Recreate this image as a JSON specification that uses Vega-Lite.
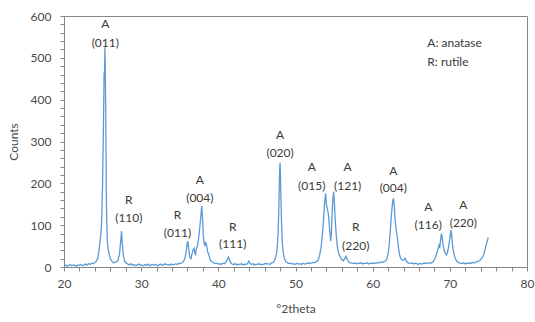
{
  "$schema": "https://vega.github.io/schema/vega-lite/v6.json",
  "width": 463,
  "height": 251,
  "autosize": {"type": "none"},
  "padding": {"left": 64, "top": 16, "right": 8, "bottom": 55},
  "background": "white",
  "config": {
    "view": {"stroke": "#868686", "strokeWidth": 1},
    "font": "Lato",
    "axis": {
      "domainColor": "#868686",
      "tickColor": "#868686",
      "tickSize": 4,
      "grid": false,
      "labelFont": "Lato",
      "labelFontSize": 12,
      "labelColor": "#4a4a4a",
      "titleFont": "Lato",
      "titleFontSize": 12,
      "titleFontWeight": "normal",
      "titleColor": "#4a4a4a"
    }
  },
  "datasets": {
    "xrd": [
      {"theta":20.0,"counts":3},{"theta":20.2,"counts":5},{"theta":20.4,"counts":2},{"theta":20.6,"counts":4},{"theta":20.8,"counts":6},
      {"theta":21.0,"counts":3},{"theta":21.2,"counts":5},{"theta":21.4,"counts":4},{"theta":21.6,"counts":2},{"theta":21.8,"counts":5},
      {"theta":22.0,"counts":4},{"theta":22.2,"counts":6},{"theta":22.4,"counts":3},{"theta":22.6,"counts":5},{"theta":22.8,"counts":7},
      {"theta":23.0,"counts":5},{"theta":23.2,"counts":8},{"theta":23.4,"counts":6},{"theta":23.6,"counts":9},{"theta":23.8,"counts":8},
      {"theta":24.0,"counts":11},{"theta":24.2,"counts":14},{"theta":24.4,"counts":22},{"theta":24.5,"counts":35},{"theta":24.6,"counts":50},
      {"theta":24.7,"counts":65},{"theta":24.8,"counts":85},{"theta":24.9,"counts":120},{"theta":25.0,"counts":200},{"theta":25.1,"counts":320},
      {"theta":25.2,"counts":465},{"theta":25.25,"counts":462},{"theta":25.3,"counts":525},{"theta":25.35,"counts":470},{"theta":25.4,"counts":380},
      {"theta":25.5,"counts":150},{"theta":25.6,"counts":68},{"theta":25.7,"counts":45},{"theta":25.8,"counts":35},{"theta":25.9,"counts":27},
      {"theta":26.0,"counts":20},{"theta":26.2,"counts":14},{"theta":26.4,"counts":10},{"theta":26.6,"counts":11},{"theta":26.8,"counts":12},
      {"theta":27.0,"counts":16},{"theta":27.2,"counts":32},
      {"theta":27.35,"counts":62},{"theta":27.45,"counts":86},{"theta":27.55,"counts":58},{"theta":27.7,"counts":26},{"theta":27.9,"counts":13},
      {"theta":28.1,"counts":9},{"theta":28.3,"counts":7},{"theta":28.5,"counts":5},{"theta":28.7,"counts":8},{"theta":28.9,"counts":4},
      {"theta":29.1,"counts":6},{"theta":29.3,"counts":3},{"theta":29.5,"counts":5},{"theta":29.7,"counts":7},{"theta":29.9,"counts":4},
      {"theta":30.1,"counts":5},{"theta":30.3,"counts":3},{"theta":30.5,"counts":6},{"theta":30.7,"counts":4},{"theta":30.9,"counts":7},
      {"theta":31.1,"counts":3},{"theta":31.3,"counts":5},{"theta":31.5,"counts":6},{"theta":31.7,"counts":4},{"theta":31.9,"counts":6},
      {"theta":32.1,"counts":3},{"theta":32.3,"counts":5},{"theta":32.5,"counts":7},{"theta":32.7,"counts":4},{"theta":32.9,"counts":5},
      {"theta":33.1,"counts":8},{"theta":33.3,"counts":5},{"theta":33.5,"counts":6},{"theta":33.7,"counts":4},{"theta":33.9,"counts":7},
      {"theta":34.1,"counts":5},{"theta":34.3,"counts":6},{"theta":34.5,"counts":8},{"theta":34.7,"counts":6},{"theta":34.9,"counts":9},
      {"theta":35.1,"counts":8},{"theta":35.3,"counts":11},{"theta":35.5,"counts":14},{"theta":35.7,"counts":22},{"theta":35.85,"counts":40},
      {"theta":35.95,"counts":55},{"theta":36.05,"counts":62},{"theta":36.15,"counts":45},{"theta":36.3,"counts":24},{"theta":36.45,"counts":20},
      {"theta":36.6,"counts":32},{"theta":36.75,"counts":42},{"theta":36.85,"counts":45},{"theta":36.95,"counts":33},{"theta":37.05,"counts":30},
      {"theta":37.15,"counts":44},{"theta":37.3,"counts":50},{"theta":37.45,"counts":70},{"theta":37.6,"counts":95},{"theta":37.75,"counts":125},
      {"theta":37.85,"counts":146},{"theta":37.95,"counts":120},{"theta":38.05,"counts":75},{"theta":38.15,"counts":58},{"theta":38.25,"counts":50},
      {"theta":38.35,"counts":58},{"theta":38.45,"counts":55},{"theta":38.6,"counts":38},{"theta":38.75,"counts":30},{"theta":38.9,"counts":20},
      {"theta":39.05,"counts":14},{"theta":39.2,"counts":12},{"theta":39.4,"counts":10},{"theta":39.6,"counts":8},{"theta":39.8,"counts":9},
      {"theta":40.0,"counts":7},{"theta":40.2,"counts":8},{"theta":40.4,"counts":6},{"theta":40.6,"counts":9},{"theta":40.8,"counts":8},
      {"theta":41.0,"counts":12},{"theta":41.15,"counts":18},{"theta":41.3,"counts":24},{"theta":41.45,"counts":17},{"theta":41.6,"counts":10},
      {"theta":41.8,"counts":7},{"theta":42.0,"counts":6},{"theta":42.2,"counts":8},{"theta":42.4,"counts":5},{"theta":42.6,"counts":7},
      {"theta":42.8,"counts":6},{"theta":43.0,"counts":8},{"theta":43.2,"counts":5},{"theta":43.4,"counts":7},{"theta":43.6,"counts":6},
      {"theta":43.8,"counts":9},{"theta":43.95,"counts":14},{"theta":44.1,"counts":9},{"theta":44.3,"counts":6},{"theta":44.5,"counts":8},
      {"theta":44.7,"counts":5},{"theta":44.9,"counts":7},{"theta":45.1,"counts":6},{"theta":45.3,"counts":8},{"theta":45.5,"counts":5},
      {"theta":45.7,"counts":7},{"theta":45.9,"counts":6},{"theta":46.1,"counts":9},{"theta":46.3,"counts":7},{"theta":46.5,"counts":8},
      {"theta":46.7,"counts":6},{"theta":46.9,"counts":10},{"theta":47.1,"counts":11},{"theta":47.3,"counts":16},{"theta":47.45,"counts":24},
      {"theta":47.6,"counts":40},{"theta":47.75,"counts":80},{"theta":47.85,"counts":150},{"theta":47.95,"counts":235},{"theta":48.0,"counts":249},
      {"theta":48.05,"counts":220},{"theta":48.1,"counts":175},{"theta":48.2,"counts":100},{"theta":48.3,"counts":55},{"theta":48.45,"counts":30},
      {"theta":48.6,"counts":18},{"theta":48.8,"counts":12},{"theta":49.0,"counts":10},{"theta":49.2,"counts":8},{"theta":49.4,"counts":9},
      {"theta":49.6,"counts":7},{"theta":49.8,"counts":8},{"theta":50.0,"counts":6},{"theta":50.2,"counts":9},{"theta":50.4,"counts":7},
      {"theta":50.6,"counts":8},{"theta":50.8,"counts":6},{"theta":51.0,"counts":9},{"theta":51.2,"counts":7},{"theta":51.4,"counts":8},
      {"theta":51.6,"counts":10},{"theta":51.8,"counts":8},{"theta":52.0,"counts":9},{"theta":52.2,"counts":11},{"theta":52.4,"counts":10},
      {"theta":52.6,"counts":12},{"theta":52.8,"counts":14},{"theta":52.95,"counts":17},{"theta":53.1,"counts":26},{"theta":53.3,"counts":45},
      {"theta":53.45,"counts":70},{"theta":53.6,"counts":105},{"theta":53.75,"counts":150},{"theta":53.9,"counts":176},{"theta":54.0,"counts":150},
      {"theta":54.1,"counts":140},{"theta":54.25,"counts":128},{"theta":54.4,"counts":95},{"theta":54.55,"counts":62},{"theta":54.65,"counts":80},
      {"theta":54.75,"counts":130},{"theta":54.85,"counts":165},{"theta":54.95,"counts":180},{"theta":55.05,"counts":150},{"theta":55.15,"counts":110},
      {"theta":55.3,"counts":72},{"theta":55.45,"counts":45},{"theta":55.6,"counts":32},{"theta":55.8,"counts":24},{"theta":56.0,"counts":18},
      {"theta":56.2,"counts":15},{"theta":56.4,"counts":20},{"theta":56.55,"counts":26},{"theta":56.7,"counts":18},{"theta":56.9,"counts":12},
      {"theta":57.1,"counts":10},{"theta":57.3,"counts":9},{"theta":57.5,"counts":8},{"theta":57.7,"counts":10},{"theta":57.9,"counts":7},
      {"theta":58.1,"counts":9},{"theta":58.3,"counts":8},{"theta":58.5,"counts":10},{"theta":58.7,"counts":7},{"theta":58.9,"counts":9},
      {"theta":59.1,"counts":8},{"theta":59.3,"counts":10},{"theta":59.5,"counts":7},{"theta":59.7,"counts":9},{"theta":59.9,"counts":8},
      {"theta":60.1,"counts":10},{"theta":60.3,"counts":8},{"theta":60.5,"counts":9},{"theta":60.7,"counts":11},{"theta":60.9,"counts":10},
      {"theta":61.1,"counts":12},{"theta":61.3,"counts":11},{"theta":61.5,"counts":13},{"theta":61.7,"counts":15},{"theta":61.85,"counts":20},
      {"theta":62.0,"counts":32},{"theta":62.15,"counts":55},{"theta":62.3,"counts":90},{"theta":62.45,"counts":130},{"theta":62.6,"counts":158},
      {"theta":62.7,"counts":164},{"theta":62.8,"counts":145},{"theta":62.9,"counts":115},{"theta":63.0,"counts":95},{"theta":63.1,"counts":82},
      {"theta":63.2,"counts":70},{"theta":63.35,"counts":45},{"theta":63.5,"counts":28},{"theta":63.65,"counts":20},{"theta":63.8,"counts":17},
      {"theta":64.0,"counts":16},{"theta":64.2,"counts":21},{"theta":64.35,"counts":15},{"theta":64.5,"counts":11},{"theta":64.7,"counts":9},
      {"theta":64.9,"counts":8},{"theta":65.1,"counts":10},{"theta":65.3,"counts":7},{"theta":65.5,"counts":9},{"theta":65.7,"counts":8},
      {"theta":65.9,"counts":6},{"theta":66.1,"counts":9},{"theta":66.3,"counts":7},{"theta":66.5,"counts":8},{"theta":66.7,"counts":10},
      {"theta":66.9,"counts":8},{"theta":67.1,"counts":9},{"theta":67.3,"counts":10},{"theta":67.5,"counts":9},{"theta":67.7,"counts":11},
      {"theta":67.85,"counts":13},{"theta":68.0,"counts":18},{"theta":68.15,"counts":24},{"theta":68.3,"counts":32},{"theta":68.45,"counts":42},
      {"theta":68.6,"counts":52},{"theta":68.7,"counts":48},{"theta":68.8,"counts":65},{"theta":68.9,"counts":80},{"theta":69.0,"counts":72},
      {"theta":69.1,"counts":55},{"theta":69.25,"counts":40},{"theta":69.4,"counts":33},{"theta":69.55,"counts":29},{"theta":69.7,"counts":35},
      {"theta":69.85,"counts":50},{"theta":70.0,"counts":68},{"theta":70.1,"counts":82},{"theta":70.18,"counts":88},{"theta":70.28,"counts":65},
      {"theta":70.4,"counts":45},{"theta":70.55,"counts":30},{"theta":70.7,"counts":21},{"theta":70.85,"counts":15},{"theta":71.0,"counts":12},
      {"theta":71.2,"counts":10},{"theta":71.4,"counts":9},{"theta":71.6,"counts":8},{"theta":71.8,"counts":10},{"theta":72.0,"counts":7},
      {"theta":72.2,"counts":9},{"theta":72.4,"counts":8},{"theta":72.6,"counts":10},{"theta":72.8,"counts":9},{"theta":73.0,"counts":11},
      {"theta":73.2,"counts":10},{"theta":73.4,"counts":12},{"theta":73.6,"counts":13},{"theta":73.8,"counts":15},{"theta":73.95,"counts":17},
      {"theta":74.1,"counts":20},{"theta":74.25,"counts":24},{"theta":74.4,"counts":30},{"theta":74.55,"counts":41},{"theta":74.7,"counts":52},
      {"theta":74.85,"counts":62},{"theta":74.98,"counts":71}
    ],
    "labels": [
      {"theta":25.35,"counts":580,"t":"A"},{"theta":25.35,"counts":536,"t":"(011)"},
      {"theta":28.4,"counts":160,"t":"R"},{"theta":28.4,"counts":117,"t":"(110)"},
      {"theta":34.7,"counts":124,"t":"R"},{"theta":34.7,"counts":81,"t":"(011)"},
      {"theta":37.6,"counts":208,"t":"A"},{"theta":37.6,"counts":164,"t":"(004)"},
      {"theta":41.86,"counts":96,"t":"R"},{"theta":41.86,"counts":55,"t":"(111)"},
      {"theta":48.0,"counts":316,"t":"A"},{"theta":48.0,"counts":272,"t":"(020)"},
      {"theta":52.1,"counts":238,"t":"A"},{"theta":52.1,"counts":194,"t":"(015)"},
      {"theta":56.76,"counts":238,"t":"A"},{"theta":56.76,"counts":194,"t":"(121)"},
      {"theta":57.8,"counts":95,"t":"R"},{"theta":57.8,"counts":51,"t":"(220)"},
      {"theta":62.67,"counts":230,"t":"A"},{"theta":62.67,"counts":188,"t":"(004)"},
      {"theta":67.2,"counts":143,"t":"A"},{"theta":67.2,"counts":100,"t":"(116)"},
      {"theta":71.75,"counts":148,"t":"A"},{"theta":71.75,"counts":104,"t":"(220)"}
    ],
    "legend": [
      {"theta":67.08,"counts":536,"t":"A: anatase"},
      {"theta":67.08,"counts":491,"t":"R: rutile"}
    ]
  },
  "encoding": {
    "x": {
      "field": "theta", "type": "quantitative",
      "scale": {"domain": [20, 80], "nice": false, "zero": false},
      "axis": {
        "title": "°2theta",
        "values": [20,22,24,26,28,30,32,34,36,38,40,42,44,46,48,50,52,54,56,58,60,62,64,66,68,70,72,74,76,78,80],
        "labelExpr": "datum.value % 10 == 0 ? datum.label : ''",
        "labelPadding": 7,
        "titlePadding": 14,
        "labelFlush": false,
        "labelOverlap": false
      }
    },
    "y": {
      "field": "counts", "type": "quantitative",
      "scale": {"domain": [0, 600], "nice": false},
      "axis": {
        "title": "Counts",
        "values": [0,20,40,60,80,100,120,140,160,180,200,220,240,260,280,300,320,340,360,380,400,420,440,460,480,500,520,540,560,580,600],
        "labelExpr": "datum.value % 100 == 0 ? datum.label : ''",
        "labelPadding": 9,
        "titlePadding": 10,
        "labelOverlap": false,
        "labelFlush": false
      }
    }
  },
  "layer": [
    {
      "data": {"name": "xrd"},
      "mark": {"type": "line", "color": "#5B9BD5", "strokeWidth": 1.3, "interpolate": "linear"}
    },
    {
      "data": {"name": "labels"},
      "mark": {"type": "text", "font": "Lato", "fontSize": 12, "color": "#3a3a3a", "align": "center", "baseline": "middle"},
      "encoding": {"text": {"field": "t"}}
    },
    {
      "data": {"name": "legend"},
      "mark": {"type": "text", "font": "Lato", "fontSize": 12, "color": "#3a3a3a", "align": "left", "baseline": "middle"},
      "encoding": {"text": {"field": "t"}}
    }
  ]
}
